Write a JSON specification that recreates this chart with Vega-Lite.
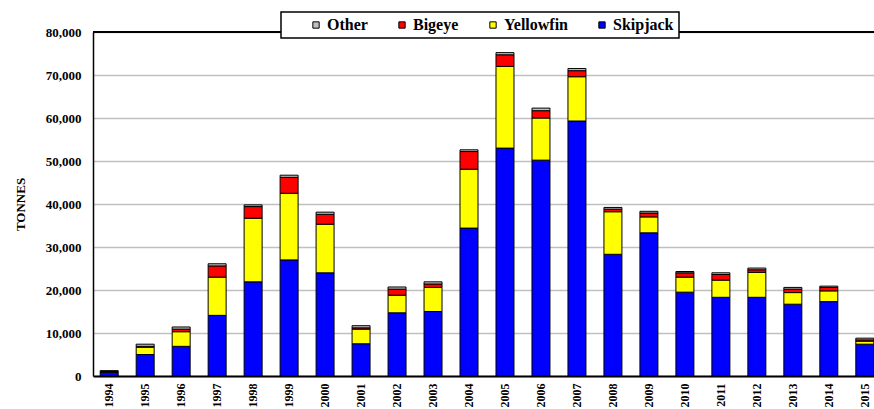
{
  "$schema": "https://vega.github.io/schema/vega-lite/v6.json",
  "width": 788,
  "height": 344,
  "autosize": {"type": "none"},
  "padding": {"left": 93, "top": 32, "right": 0, "bottom": 33},
  "background": "white",
  "config": {"view": {"stroke": null}, "font": "Times New Roman", "legend": {"strokeWidth": 1.5}},
  "datasets": {
    "speciesOrder": [
      {"species": "Skipjack", "rank": 1},
      {"species": "Yellowfin", "rank": 2},
      {"species": "Bigeye", "rank": 3},
      {"species": "Other", "rank": 4}
    ]
  },
  "data": {"values": [
    {"year": "1994", "Skipjack": 850, "Yellowfin": 150, "Bigeye": 50, "Other": 200},
    {"year": "1995", "Skipjack": 5000, "Yellowfin": 1700, "Bigeye": 200, "Other": 500},
    {"year": "1996", "Skipjack": 6900, "Yellowfin": 3400, "Bigeye": 600, "Other": 500},
    {"year": "1997", "Skipjack": 14100, "Yellowfin": 8900, "Bigeye": 2600, "Other": 500},
    {"year": "1998", "Skipjack": 21900, "Yellowfin": 14800, "Bigeye": 2700, "Other": 400},
    {"year": "1999", "Skipjack": 27000, "Yellowfin": 15500, "Bigeye": 3700, "Other": 500},
    {"year": "2000", "Skipjack": 24000, "Yellowfin": 11300, "Bigeye": 2300, "Other": 500},
    {"year": "2001", "Skipjack": 7500, "Yellowfin": 3400, "Bigeye": 300, "Other": 500},
    {"year": "2002", "Skipjack": 14700, "Yellowfin": 4100, "Bigeye": 1400, "Other": 500},
    {"year": "2003", "Skipjack": 15000, "Yellowfin": 5600, "Bigeye": 800, "Other": 500},
    {"year": "2004", "Skipjack": 34400, "Yellowfin": 13700, "Bigeye": 4100, "Other": 400},
    {"year": "2005", "Skipjack": 53000, "Yellowfin": 19000, "Bigeye": 2700, "Other": 500},
    {"year": "2006", "Skipjack": 50200, "Yellowfin": 9800, "Bigeye": 1700, "Other": 600},
    {"year": "2007", "Skipjack": 59300, "Yellowfin": 10300, "Bigeye": 1400, "Other": 500},
    {"year": "2008", "Skipjack": 28300, "Yellowfin": 9900, "Bigeye": 600, "Other": 400},
    {"year": "2009", "Skipjack": 33300, "Yellowfin": 3700, "Bigeye": 900, "Other": 400},
    {"year": "2010", "Skipjack": 19500, "Yellowfin": 3500, "Bigeye": 1000, "Other": 300},
    {"year": "2011", "Skipjack": 18300, "Yellowfin": 4000, "Bigeye": 1300, "Other": 400},
    {"year": "2012", "Skipjack": 18300, "Yellowfin": 5800, "Bigeye": 600, "Other": 400},
    {"year": "2013", "Skipjack": 16700, "Yellowfin": 2700, "Bigeye": 800, "Other": 400},
    {"year": "2014", "Skipjack": 17300, "Yellowfin": 2500, "Bigeye": 800, "Other": 300},
    {"year": "2015", "Skipjack": 7400, "Yellowfin": 700, "Bigeye": 300, "Other": 400}
  ]},
  "transform": [
    {"fold": ["Skipjack", "Yellowfin", "Bigeye", "Other"], "as": ["species", "tonnes"]},
    {"lookup": "species", "from": {"data": {"name": "speciesOrder"}, "key": "species", "fields": ["rank"]}}
  ],
  "layer": [
    {
      "mark": {"type": "bar", "stroke": "black", "strokeWidth": 1},
      "encoding": {
        "x": {
          "field": "year", "type": "nominal",
          "scale": {"paddingInner": 0.5, "paddingOuter": 0.2},
          "axis": {
            "title": null, "labelAngle": -90,
            "labelFontSize": 12, "labelFontWeight": "bold", "labelColor": "black",
            "labelPadding": 7, "ticks": false, "domainColor": "black", "domainWidth": 2
          }
        },
        "y": {
          "field": "tonnes", "type": "quantitative", "stack": "zero",
          "scale": {"domain": [0, 80000], "nice": false},
          "axis": {
            "title": "TONNES", "titleFontSize": 13,
            "titleFontWeight": "bold", "titleColor": "black", "titlePadding": 18,
            "values": [0, 10000, 20000, 30000, 40000, 50000, 60000, 70000, 80000],
            "format": ",.0f", "labelFontSize": 13,
            "labelFontWeight": "bold", "labelColor": "black", "labelPadding": 12,
            "ticks": false, "domainColor": "black", "domainWidth": 1.5,
            "gridColor": "#C0C0C0", "gridWidth": 1.5
          }
        },
        "color": {
          "field": "species", "type": "nominal",
          "scale": {
            "domain": ["Other", "Bigeye", "Yellowfin", "Skipjack"],
            "range": ["#C0C0C0", "#FF0000", "#FFFF00", "#0000FF"]
          },
          "legend": {
            "orient": "none", "legendX": 188, "legendY": -20,
            "direction": "horizontal",
            "title": "\u00a0", "titleOrient": "left", "titlePadding": 22,
            "titleFontSize": 14,
            "strokeColor": "black", "fillColor": "white",
            "padding": 5,
            "symbolType": "square", "symbolSize": 40,
            "symbolStrokeColor": "black", "symbolStrokeWidth": 1,
            "labelFontSize": 16,
            "labelFontWeight": "bold", "labelColor": "black",
            "labelOffset": 3, "columnPadding": 26
          }
        },
        "order": {"field": "rank", "type": "quantitative", "sort": "ascending"}
      }
    },
    {
      "mark": {"type": "rule", "color": "black", "strokeWidth": 1.5},
      "encoding": {"y": {"datum": 80000}}
    }
  ]
}
